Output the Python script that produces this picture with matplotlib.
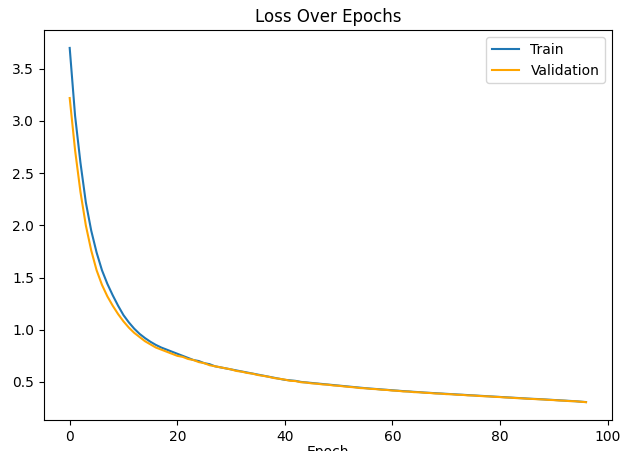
import matplotlib

matplotlib.use("Agg")
import matplotlib.pyplot as plt

# per-epoch loss
train_loss = [
    3.70, 3.05, 2.60, 2.22, 1.95, 1.74, 1.57, 1.44, 1.33, 1.23,
    1.14, 1.07, 1.01, 0.96, 0.92, 0.885, 0.855, 0.83, 0.81, 0.79,
    0.77, 0.75, 0.73, 0.71, 0.70, 0.68, 0.67, 0.65, 0.64, 0.63,
    0.62, 0.61, 0.60, 0.59, 0.58, 0.57, 0.56, 0.55, 0.54, 0.53,
    0.52, 0.515, 0.51, 0.50, 0.495, 0.49, 0.485, 0.48, 0.475, 0.47,
    0.465, 0.46, 0.455, 0.45, 0.445, 0.44, 0.436, 0.432, 0.428, 0.424,
    0.42, 0.416, 0.412, 0.409, 0.405, 0.402, 0.398, 0.395, 0.392, 0.389,
    0.386, 0.383, 0.380, 0.377, 0.374, 0.371, 0.368, 0.365, 0.362, 0.359,
    0.356, 0.353, 0.350, 0.347, 0.344, 0.341, 0.338, 0.336, 0.333, 0.330,
    0.327, 0.324, 0.321, 0.318, 0.315, 0.311, 0.307,
]
val_loss = [
    3.22, 2.72, 2.32, 2.00, 1.76, 1.57, 1.43, 1.32, 1.23, 1.15,
    1.08, 1.02, 0.97, 0.93, 0.89, 0.86, 0.83, 0.81, 0.79, 0.77,
    0.75, 0.74, 0.72, 0.71, 0.69, 0.68, 0.66, 0.65, 0.64, 0.63,
    0.62, 0.605, 0.598, 0.586, 0.579, 0.566, 0.558, 0.549, 0.537, 0.530,
    0.522, 0.511, 0.508, 0.497, 0.494, 0.486, 0.483, 0.476, 0.474, 0.466,
    0.463, 0.457, 0.452, 0.448, 0.441, 0.439, 0.433, 0.431, 0.425, 0.423,
    0.417, 0.415, 0.409, 0.408, 0.402, 0.401, 0.396, 0.394, 0.389, 0.388,
    0.383, 0.382, 0.377, 0.376, 0.371, 0.370, 0.366, 0.363, 0.361, 0.357,
    0.355, 0.351, 0.349, 0.345, 0.343, 0.339, 0.337, 0.334, 0.332, 0.328,
    0.326, 0.322, 0.320, 0.316, 0.315, 0.310, 0.306,
]
epochs = list(range(len(train_loss)))

fig = plt.figure(figsize=(6.36, 4.51), dpi=100)
ax = fig.add_axes([0.069, 0.069, 0.893, 0.864])
ax.plot(epochs, train_loss, color="#1f77b4", label="Train")
ax.plot(epochs, val_loss, color="orange", label="Validation")
ax.set_title("Loss Over Epochs")
ax.set_xlabel("Epoch", labelpad=1)
ax.legend(loc="upper right")

fig.savefig("out.png", dpi=100)
